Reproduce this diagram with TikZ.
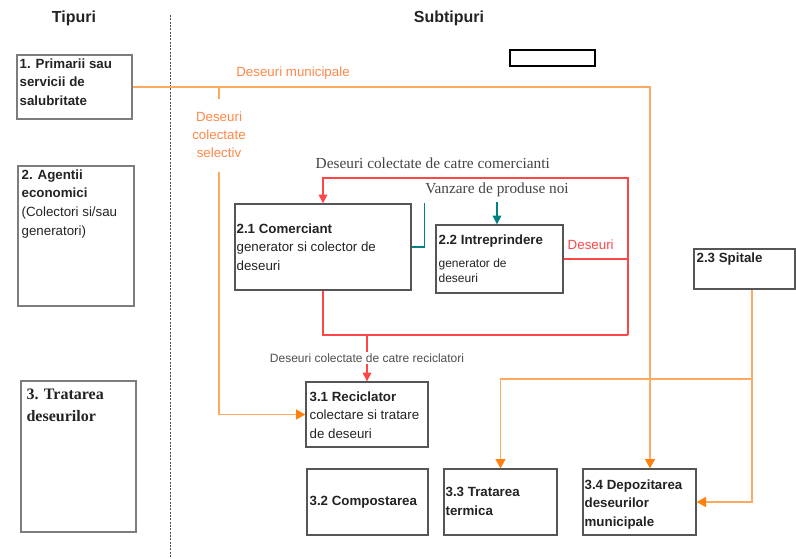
\documentclass[tikz,border=0pt]{standalone}
\usepackage{fontspec}
\setmainfont{Liberation Sans}
\newfontfamily\tnr{Liberation Serif}
\usetikzlibrary{positioning}
\usetikzlibrary{arrows.meta}
\usetikzlibrary{fit}
\definecolor{boxgray}{RGB}{125,125,125}
\definecolor{subgray}{RGB}{85,85,85}
\definecolor{lineorange}{RGB}{255,168,95}
\definecolor{tiporange}{RGB}{255,128,10}
\definecolor{textorange}{RGB}{255,135,70}
\definecolor{linered}{RGB}{255,70,70}
\definecolor{lineteal}{RGB}{0,130,130}
\definecolor{textdark}{RGB}{35,35,35}

\begin{document}
\begin{tikzpicture}[ x = 0.75pt
                   , y = -0.75pt
                   , font = \fontsize{10}{14}\selectfont
                   , text = textdark
                   , box/.style = { rectangle
                                  , draw = subgray
                                  , line width = 1pt
                                  , inner sep = 0pt }
                   , tipbox/.style = {draw = boxgray}
                   , boxtxt/.style = { anchor = north west
                                     , align = left
                                     , inner sep = 0pt }
                   , bold/.style = {font = \bfseries\fontsize{10}{14}\selectfont}
                   , hdr/.style = {font = \bfseries\fontsize{12}{14}\selectfont}
                   , serif/.style = {font = \tnr\fontsize{11.5}{13}\selectfont, text = textdark!85}
                   , orline/.style = {draw = lineorange, line width = 1pt}
                   , orarrow/.style = {orline, -{Triangle[width=7.5pt, length=7pt, color=tiporange]}}
                   , redline/.style = {draw = linered, line width = 0.8pt}
                   , redarrow/.style = {redline, -{Triangle[width=6.5pt, length=6.5pt]}}
                   , tealline/.style = {draw = lineteal, line width = 0.8pt}
                   , tealarrow/.style = {tealline, -{Triangle[width=6.5pt, length=6.5pt]}}
                   , sepline/.style = {draw = black!70, line width = 0.6pt, dash pattern = on 1.5pt off 1pt}
                   ]
  \useasboundingbox (0,0) rectangle (796,558);

  %%
  %% Headers
  %%
  \node (tipuri) [hdr] at (74,18) {Tipuri};
  \node (subtipuri) [hdr] at (449,18) {Subtipuri};
  \draw[sepline] (170,15) -- (170,558);
  \node (blank) [draw = black, line width = 2pt, inner sep = 0pt, fit = {(510,50) (595,66)}] {};

  %%
  %% Tipuri
  %%
  \node (prim) [box, tipbox, fit = {(17,55) (132,119)}] {};
  \node (primtxt) [boxtxt, bold] at ([shift = {(3,4)}]prim.north west)
        {1. Primarii sau\\ servicii de\\ salubritate};
  \node (agenti) [box, tipbox, fit = {(18,166) (134,306)}] {};
  \node (agentitxt) [boxtxt] at ([shift = {(4,4)}]agenti.north west)
        {\textbf{2. Agentii}\\ \textbf{economici}\\ (Colectori si/sau\\ generatori)};
  \node (tratare) [box, tipbox, fit = {(21,381) (136,532)}] {};
  \node (trataretxt) [boxtxt, font = \tnr\bfseries\fontsize{12}{16.5}\selectfont]
        at ([shift = {(6,8)}]tratare.north west) {3. Tratarea\\ deseurilor};

  %%
  %% Subtipuri
  %%
  \node (comerc) [box, fit = {(235,204) (411,290)}] {};
  \node (comerctxt) [boxtxt] at ([shift = {(2,20)}]comerc.north west)
        {\textbf{2.1 Comerciant}\\ generator si colector de\\ deseuri};
  \node (intrep) [box, fit = {(436,225) (563,293)}] {};
  \node (intreptxt) [boxtxt, font = \fontsize{9}{11.5}\selectfont] at ([shift = {(3,10)}]intrep.north west)
        {{\bfseries\fontsize{10}{11.5}\selectfont 2.2 Intreprindere}\\[6pt] generator de\\ deseuri};
  \node (spitale) [box, fit = {(694,249) (795,289)}] {};
  \node (spitaletxt) [boxtxt, bold] at ([shift = {(3,4)}]spitale.north west) {2.3 Spitale};
  \node (recicl) [box, fit = {(306,382) (428,447)}] {};
  \node (recicltxt) [boxtxt] at ([shift = {(4,10)}]recicl.north west)
        {\textbf{3.1 Reciclator}\\ colectare si tratare\\ de deseuri};
  \node (compost) [box, fit = {(307,469) (428,535)}] {};
  \node (composttxt) [boxtxt, bold] at ([shift = {(3,28)}]compost.north west) {3.2 Compostarea};
  \node (termic) [box, fit = {(444,469) (557,535)}] {};
  \node (termictxt) [boxtxt, bold] at ([shift = {(2,19)}]termic.north west) {3.3 Tratarea\\ termica};
  \node (depoz) [box, fit = {(583,469) (696,535)}] {};
  \node (depoztxt) [boxtxt, bold] at ([shift = {(2,11)}]depoz.north west)
        {3.4 Depozitarea\\ deseurilor\\ municipale};

  %%
  %% Labels
  %%
  \node (selectiv) [text = textorange, align = center, inner xsep = 0pt, inner ysep = 10pt,
                    font = \fontsize{10}{13.5}\selectfont] at (219,135) {Deseuri\\ colectate\\ selectiv};
  \node (vanzare) [serif] at (497,190) {Vanzare de produse noi};
  \coordinate (muncx) at (650,0);
  \coordinate (redtr) at (628,178);
  \coordinate (redbr) at (628,335);
  \coordinate (spj) at (752,379);

  %%
  %% Connectors
  %%
  % Orange lines.
  \draw[orarrow] (prim.east) -- node[pos = 0.31, above = 2pt, text = textorange] {Deseuri municipale}
                 (prim.east -| muncx) -- (depoz.north -| muncx);
  \draw[orline] (selectiv.north |- prim.east) -- (selectiv.north);
  \draw[orarrow] (selectiv.south) |- (recicl.west);
  \draw[orline] (spitale.south -| spj) -- (spj);
  \draw[orarrow] (spj) -| (termic.north);
  \draw[orarrow] (spj) |- (depoz.east);
  % Red lines.
  \draw[redline] (intrep.east) -- node[above = 3pt, pos = 0.42, text = linered] {Deseuri}
                 (intrep.east -| redtr);
  \draw[redarrow] (redbr) -- (redtr) -- node[pos = 0.64, above = 3pt, serif] {Deseuri colectate de catre comercianti}
                  (redtr -| comerc.north) -- (comerc.north);
  \draw[redline] (comerc.south) |- (redbr);
  \draw[redarrow] (recicl.north |- redbr) -- node[fill = white, inner sep = 1pt, text = textdark!80,
                  font = \fontsize{9}{10}\selectfont] {Deseuri colectate de catre reciclatori}
                  (recicl.north);
  % Teal lines.
  \draw[tealline] (comerc.east) -- ++(13,0) -- ++(0,-44);
  \draw[tealarrow] (vanzare.south) -- (vanzare.south |- intrep.north);
\end{tikzpicture}
\end{document}
